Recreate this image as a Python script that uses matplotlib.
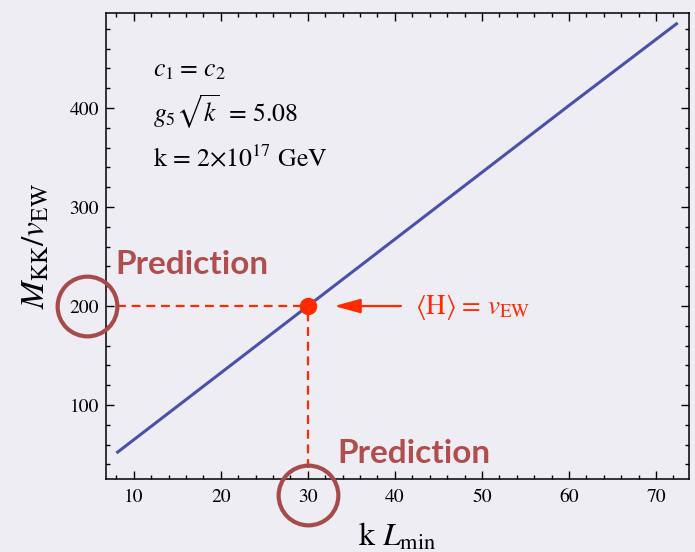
import matplotlib
matplotlib.use("Agg")
import matplotlib.pyplot as plt
import matplotlib.transforms as mtransforms
from matplotlib.ticker import MultipleLocator

plt.rcParams['font.family'] = ['STIXGeneral', 'DejaVu Serif']
plt.rcParams['mathtext.fontset'] = 'stix'

# KK mass over EW vev versus k*L_min
kL_min = [8.0, 20.0, 30.0, 40.0, 50.0, 60.0, 72.5]
m_kk = [51.5, 132.5, 200.0, 267.5, 335.0, 402.5, 486.0]

# predicted point where <H> = v_EW
pred_x = 30
pred_y = 200

x_ticks = [10, 20, 30, 40, 50, 60, 70]
y_ticks = [100, 200, 300, 400]

bg = '#eeedf4'
line_col = '#4b51aa'
red = '#ff2a00'
ring_col = '#a64b4b'
pred_col = '#b04e4e'

fig = plt.figure(figsize=(6.95, 5.52), dpi=100, facecolor=bg)
ax = fig.add_axes([106 / 695, 73 / 552, 583 / 695, 466 / 552])
ax.set_facecolor(bg)

ax.set_xlim(6.8, 73.8)
ax.set_ylim(25.3, 496)

ax.plot(kL_min, m_kk, color=line_col, lw=2.2, solid_capstyle='butt', zorder=3)

# dashed guides from the point back to the axes
ax.hlines(pred_y, 4.6 + 30 / 8.7, pred_x, colors=red, lw=1.6,
          linestyles=(0, (4, 2.6)), zorder=2, clip_on=False)
ax.vlines(pred_x, 25.3 + 11, pred_y, colors=red, lw=1.6,
          linestyles=(0, (4, 2.6)), zorder=2)
ax.plot([pred_x], [pred_y], 'o', color=red, ms=11.5, zorder=4)

# arrow and label
ax.annotate('', xy=(pred_x, pred_y), xytext=(67, 0), textcoords='offset points',
            arrowprops=dict(arrowstyle='-|>,head_length=0.8,head_width=0.22',
                            mutation_scale=20, color=red, lw=1.6,
                            shrinkA=0, shrinkB=19))
ax.annotate(r'$\langle\mathrm{H}\rangle\;$= $v_{\mathrm{EW}}$', xy=(pred_x, pred_y),
            xytext=(77, -1), textcoords='offset points', ha='left', va='center',
            color=red, fontsize=19.5)

# rings around the predicted tick values
left_ring = mtransforms.offset_copy(
    mtransforms.blended_transform_factory(ax.transAxes, ax.transData),
    fig=fig, x=-19 / 100, y=0, units='inches')
ax.plot([0], [pred_y], 'o', ms=43, mfc='none', mec=ring_col, mew=3,
        transform=left_ring, clip_on=False, zorder=5)
bottom_ring = mtransforms.offset_copy(
    mtransforms.blended_transform_factory(ax.transData, ax.transAxes),
    fig=fig, x=0, y=-15.5 / 100, units='inches')
ax.plot([pred_x], [0], 'o', ms=43, mfc='none', mec=ring_col, mew=3,
        transform=bottom_ring, clip_on=False, zorder=5)

ax.text(115 / 695, (552 - 274) / 552, 'Prediction', transform=fig.transFigure,
        family='Lato', weight='bold', fontsize=24, color=pred_col, va='baseline')
ax.text(337 / 695, (552 - 463) / 552, 'Prediction', transform=fig.transFigure,
        family='Lato', weight='bold', fontsize=24, color=pred_col, va='baseline')

# parameter block
ax.text(0.081, 0.865, r'$c_1\;$= $c_2$', transform=ax.transAxes, fontsize=18.5,
        va='baseline')
ax.text(0.081, 0.766, r'$g_5\sqrt{k}\;\;$= 5.08', transform=ax.transAxes,
        fontsize=18.5, va='baseline')
ax.text(0.081, 0.672, r'k = 2$\times$10$^{17}$ GeV', transform=ax.transAxes,
        fontsize=18.5, va='baseline')

ax.set_xticks(x_ticks)
ax.set_yticks(y_ticks)
ax.xaxis.set_minor_locator(MultipleLocator(2))
ax.yaxis.set_minor_locator(MultipleLocator(20))
ax.tick_params(which='both', direction='in', top=True, right=True,
               labeltop=False, labelright=False, width=1, color='black')
ax.tick_params(which='major', length=6, labelsize=14)
ax.tick_params(which='minor', length=3)
ax.tick_params(axis='x', which='major', pad=7)
ax.tick_params(axis='y', which='major', pad=5)
for s in ax.spines.values():
    s.set_linewidth(1.1)

ax.set_xlabel(r'k $L_{\mathrm{min}}$', fontsize=23, va='baseline')
ax.xaxis.set_label_coords(0.5, -0.144)
ax.set_ylabel(r'$M_{\mathrm{KK}}/v_{\mathrm{EW}}$', fontsize=24)
ax.yaxis.set_label_coords(-0.093, 0.5)

fig.savefig('out.png', dpi=100, facecolor=bg)
